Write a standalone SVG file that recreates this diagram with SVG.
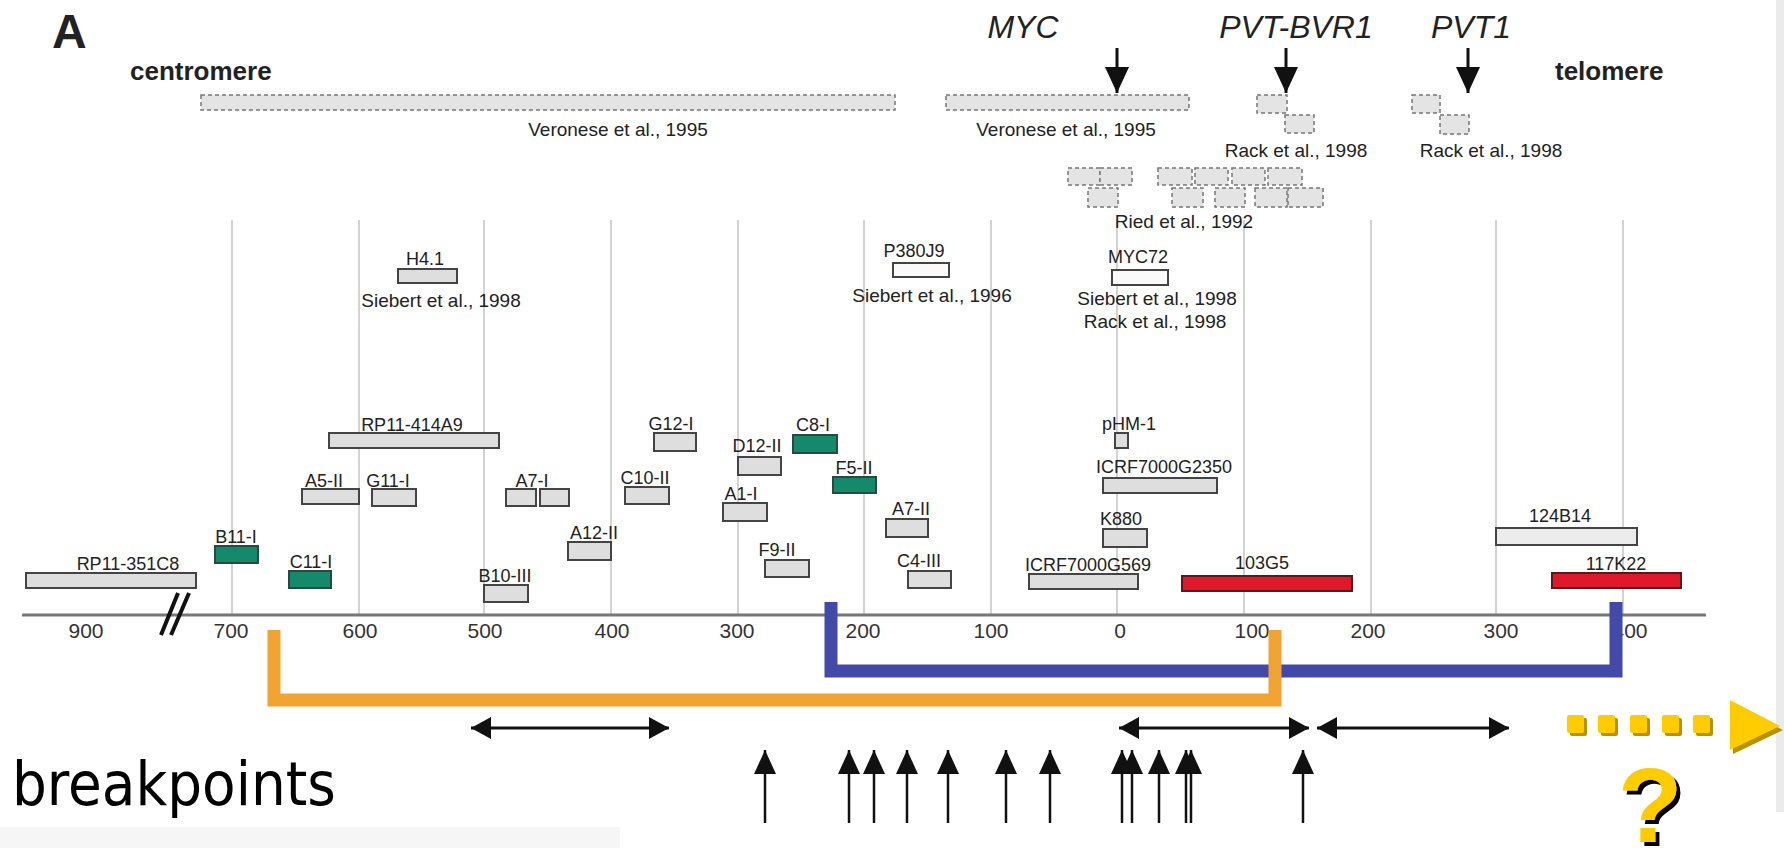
<svg xmlns="http://www.w3.org/2000/svg" width="1784" height="848" viewBox="0 0 1784 848">
<defs>
<style>
text{font-family:"Liberation Sans",Arial,sans-serif;fill:#222}
.cl{font-size:18px;text-anchor:middle}
.ref{font-size:19px;text-anchor:middle}
.tick{font-size:21px;text-anchor:middle;fill:#333}
.hd{font-size:26px;font-weight:bold}
.gene{font-size:32px;font-style:italic;text-anchor:middle}
.g{fill:#dedede;stroke:#444;stroke-width:2}
.w{fill:#fafafa;stroke:#444;stroke-width:2}
.gr{fill:#14896b;stroke:#2a4a40;stroke-width:2}
.rd{fill:#e0182b;stroke:#5a1a1a;stroke-width:2}
.d{fill:#e4e4e4;stroke:#777;stroke-width:1.5;stroke-dasharray:4 3}
.grid{stroke:#c4c4c4;stroke-width:1.5}
.ar{stroke:#111;stroke-width:3;fill:none}
.bp{stroke:#111;stroke-width:2.5;fill:none;marker-end:url(#ahu)}
.dbl{stroke:#111;stroke-width:3;fill:none;marker-start:url(#ahd);marker-end:url(#ahd)}
.ys{fill:#b89200}
.yl{fill:#ffcc00}
</style>
<filter id="qsh" x="-20%" y="-20%" width="150%" height="150%"><feDropShadow dx="4" dy="4" stdDeviation="0" flood-color="#000" flood-opacity="1"/></filter>
<marker id="ahu" viewBox="0 0 24 22" refX="24" refY="11" markerWidth="24" markerHeight="22" markerUnits="userSpaceOnUse" orient="auto"><path d="M0,0 L24,11 L0,22 z" fill="#111"/></marker>
<marker id="ahg" viewBox="0 0 26 24" refX="26" refY="12" markerWidth="26" markerHeight="24" markerUnits="userSpaceOnUse" orient="auto"><path d="M0,0 L26,12 L0,24 z" fill="#111"/></marker>
<marker id="ahd" viewBox="0 0 20 22" refX="20" refY="11" markerWidth="20" markerHeight="22" markerUnits="userSpaceOnUse" orient="auto-start-reverse"><path d="M0,0 L20,11 L0,22 z" fill="#111"/></marker>
</defs>
<rect x="0" y="0" width="1784" height="848" fill="#ffffff"/>
<rect x="1776" y="0" width="8" height="812" fill="#ebebeb"/>
<rect x="0" y="827" width="620" height="21" fill="#f6f6f6"/>

<g id="titles">
<text x="52" y="48" style="font-size:48px;font-weight:bold">A</text>
<text class="hd" x="130" y="80">centromere</text>
<text class="hd" x="1555" y="80">telomere</text>
<text class="gene" x="1023" y="38">MYC</text>
<text class="gene" x="1296" y="38">PVT-BVR1</text>
<text class="gene" x="1471" y="38">PVT1</text>
</g>

<g id="grid">
<line class="grid" x1="232" y1="220" x2="232" y2="615"/>
<line class="grid" x1="359" y1="220" x2="359" y2="615"/>
<line class="grid" x1="484" y1="220" x2="484" y2="615"/>
<line class="grid" x1="611" y1="220" x2="611" y2="615"/>
<line class="grid" x1="738" y1="220" x2="738" y2="615"/>
<line class="grid" x1="864" y1="220" x2="864" y2="615"/>
<line class="grid" x1="991" y1="220" x2="991" y2="615"/>
<line class="grid" x1="1117" y1="220" x2="1117" y2="615"/>
<line class="grid" x1="1244" y1="220" x2="1244" y2="615"/>
<line class="grid" x1="1371" y1="220" x2="1371" y2="615"/>
<line class="grid" x1="1496" y1="220" x2="1496" y2="615"/>
<line class="grid" x1="1623" y1="220" x2="1623" y2="615"/>
</g>

<g id="axis">
<line x1="22" y1="615" x2="1706" y2="615" stroke="#777" stroke-width="3"/>
<line x1="161" y1="635" x2="178" y2="593" stroke="#111" stroke-width="4"/>
<line x1="171" y1="635" x2="189" y2="593" stroke="#111" stroke-width="4"/>
<text class="tick" x="86" y="638">900</text>
<text class="tick" x="231" y="638">700</text>
<text class="tick" x="360" y="638">600</text>
<text class="tick" x="485" y="638">500</text>
<text class="tick" x="612" y="638">400</text>
<text class="tick" x="737" y="638">300</text>
<text class="tick" x="863" y="638">200</text>
<text class="tick" x="991" y="638">100</text>
<text class="tick" x="1120" y="638">0</text>
<text class="tick" x="1252" y="638">100</text>
<text class="tick" x="1368" y="638">200</text>
<text class="tick" x="1501" y="638">300</text>
<text class="tick" x="1630" y="638">400</text>
</g>

<g id="veronese1">
<rect class="d" x="201" y="95" width="694" height="15"/>
<text class="ref" x="618" y="136">Veronese et al., 1995</text>
</g>
<g id="veronese2">
<rect class="d" x="946" y="95" width="243" height="15"/>
<text class="ref" x="1066" y="136">Veronese et al., 1995</text>
</g>
<g id="rack1">
<rect class="d" x="1257" y="95" width="30" height="18"/>
<rect class="d" x="1285" y="115" width="29" height="18"/>
<text class="ref" x="1296" y="157">Rack et al., 1998</text>
</g>
<g id="rack2">
<rect class="d" x="1412" y="95" width="28" height="18"/>
<rect class="d" x="1440" y="115" width="29" height="19"/>
<text class="ref" x="1491" y="157">Rack et al., 1998</text>
</g>
<g id="ried">
<rect class="d" x="1068" y="168" width="32" height="17"/>
<rect class="d" x="1100" y="168" width="32" height="17"/>
<rect class="d" x="1158" y="168" width="34" height="17"/>
<rect class="d" x="1195" y="168" width="33" height="17"/>
<rect class="d" x="1232" y="168" width="33" height="17"/>
<rect class="d" x="1268" y="168" width="34" height="17"/>
<rect class="d" x="1088" y="188" width="30" height="19"/>
<rect class="d" x="1172" y="188" width="31" height="19"/>
<rect class="d" x="1215" y="188" width="30" height="19"/>
<rect class="d" x="1255" y="188" width="32" height="19"/>
<rect class="d" x="1288" y="188" width="35" height="19"/>
<text class="ref" x="1184" y="228">Ried et al., 1992</text>
</g>

<g id="H4.1">
<text class="cl" x="425" y="265">H4.1</text>
<rect class="g" x="398" y="269" width="59" height="14"/>
<text class="ref" x="441" y="307">Siebert et al., 1998</text>
</g>
<g id="P380J9">
<text class="cl" x="914" y="257">P380J9</text>
<rect class="w" x="893" y="263" width="56" height="14"/>
<text class="ref" x="932" y="302">Siebert et al., 1996</text>
</g>
<g id="MYC72">
<text class="cl" x="1138" y="263">MYC72</text>
<rect class="w" x="1112" y="270" width="56" height="15"/>
<text class="ref" x="1157" y="305">Siebert et al., 1998</text>
<text class="ref" x="1155" y="328">Rack et al., 1998</text>
</g>

<g id="RP11-351C8"><rect class="g" x="26" y="573" width="170" height="15"/><text class="cl" x="128" y="570">RP11-351C8</text></g>
<g id="B11-I"><rect class="gr" x="215" y="546" width="43" height="17"/><text class="cl" x="236" y="543">B11-I</text></g>
<g id="C11-I"><rect class="gr" x="289" y="571" width="42" height="17"/><text class="cl" x="311" y="568">C11-I</text></g>
<g id="RP11-414A9"><rect class="g" x="329" y="433" width="170" height="15"/><text class="cl" x="412" y="431">RP11-414A9</text></g>
<g id="A5-II"><rect class="g" x="302" y="489" width="57" height="15"/><text class="cl" x="324" y="487">A5-II</text></g>
<g id="G11-I"><rect class="g" x="372" y="489" width="44" height="17"/><text class="cl" x="388" y="487">G11-I</text></g>
<g id="A7-I"><rect class="g" x="506" y="489" width="30" height="17"/><rect class="g" x="540" y="489" width="29" height="17"/><text class="cl" x="532" y="487">A7-I</text></g>
<g id="B10-III"><rect class="g" x="484" y="585" width="44" height="17"/><text class="cl" x="505" y="582">B10-III</text></g>
<g id="A12-II"><rect class="g" x="568" y="542" width="43" height="18"/><text class="cl" x="594" y="539">A12-II</text></g>
<g id="G12-I"><rect class="g" x="654" y="433" width="42" height="18"/><text class="cl" x="671" y="430">G12-I</text></g>
<g id="C10-II"><rect class="g" x="625" y="487" width="44" height="17"/><text class="cl" x="645" y="484">C10-II</text></g>
<g id="D12-II"><rect class="g" x="738" y="457" width="43" height="18"/><text class="cl" x="757" y="452">D12-II</text></g>
<g id="C8-I"><rect class="gr" x="793" y="435" width="44" height="18"/><text class="cl" x="813" y="431">C8-I</text></g>
<g id="F5-II"><rect class="gr" x="833" y="477" width="43" height="16"/><text class="cl" x="854" y="474">F5-II</text></g>
<g id="A1-I"><rect class="g" x="723" y="503" width="44" height="18"/><text class="cl" x="741" y="500">A1-I</text></g>
<g id="A7-II"><rect class="g" x="886" y="519" width="42" height="18"/><text class="cl" x="911" y="515">A7-II</text></g>
<g id="F9-II"><rect class="g" x="765" y="560" width="44" height="17"/><text class="cl" x="777" y="556">F9-II</text></g>
<g id="C4-III"><rect class="g" x="908" y="571" width="43" height="17"/><text class="cl" x="919" y="567">C4-III</text></g>
<g id="ICRF7000G569"><rect class="g" x="1029" y="574" width="109" height="15"/><text class="cl" x="1088" y="571">ICRF7000G569</text></g>
<g id="pHM-1"><rect class="g" x="1115" y="433" width="13" height="15"/><text class="cl" x="1129" y="430">pHM-1</text></g>
<g id="ICRF7000G2350"><rect class="g" x="1103" y="478" width="114" height="15"/><text class="cl" x="1164" y="473">ICRF7000G2350</text></g>
<g id="K880"><rect class="g" x="1103" y="529" width="44" height="18"/><text class="cl" x="1121" y="525">K880</text></g>
<g id="103G5"><rect class="rd" x="1182" y="576" width="170" height="15"/><text class="cl" x="1262" y="569">103G5</text></g>
<g id="124B14"><rect class="w" x="1496" y="528" width="141" height="17" style="fill:#ececec"/><text class="cl" x="1560" y="522">124B14</text></g>
<g id="117K22"><rect class="rd" x="1552" y="573" width="129" height="15"/><text class="cl" x="1616" y="570">117K22</text></g>

<g id="breakpoints-label">
<text x="12" y="805" style="font-family:'DejaVu Sans Condensed','DejaVu Sans',sans-serif;font-stretch:condensed;font-size:61px;fill:#000">breakpoints</text>
</g>

<g id="question">
<g id="dotted-arrow">
<rect class="ys" x="1570" y="718" width="17" height="18" rx="2"/>
<rect class="yl" x="1567" y="715" width="17" height="18" rx="2"/>
<rect class="ys" x="1601" y="718" width="17" height="18" rx="2"/>
<rect class="yl" x="1598" y="715" width="17" height="18" rx="2"/>
<rect class="ys" x="1633" y="718" width="17" height="18" rx="2"/>
<rect class="yl" x="1630" y="715" width="17" height="18" rx="2"/>
<rect class="ys" x="1665" y="718" width="17" height="18" rx="2"/>
<rect class="yl" x="1662" y="715" width="17" height="18" rx="2"/>
<rect class="ys" x="1696" y="718" width="17" height="18" rx="2"/>
<rect class="yl" x="1693" y="715" width="17" height="18" rx="2"/>
<polygon class="ys" points="1733,704 1783,730 1733,754"/>
<polygon class="yl" points="1730,700 1780,726 1730,750"/>
</g>
<text x="1650" y="842" filter="url(#qsh)" style="font-size:106px;font-weight:bold;text-anchor:middle;fill:#ffcc00">?</text>
</g>

<g id="connectors">
<line class="ar" x1="1117" y1="48" x2="1117" y2="93" marker-end="url(#ahg)"/>
<line class="ar" x1="1286" y1="48" x2="1286" y2="93" marker-end="url(#ahg)"/>
<line class="ar" x1="1468" y1="48" x2="1468" y2="93" marker-end="url(#ahg)"/>
<path d="M831,602 V671 H1616 V602" fill="none" stroke="#4349a8" stroke-width="13"/>
<path d="M274,630 V700 H1275 V630" fill="none" stroke="#f2a432" stroke-width="13"/>
<line class="dbl" x1="471" y1="728" x2="669" y2="728"/>
<line class="dbl" x1="1119" y1="728" x2="1309" y2="728"/>
<line class="dbl" x1="1317" y1="728" x2="1509" y2="728"/>
<line class="bp" x1="765" y1="823" x2="765" y2="750"/>
<line class="bp" x1="849" y1="823" x2="849" y2="750"/>
<line class="bp" x1="874" y1="823" x2="874" y2="750"/>
<line class="bp" x1="907" y1="823" x2="907" y2="750"/>
<line class="bp" x1="948" y1="823" x2="948" y2="750"/>
<line class="bp" x1="1006" y1="823" x2="1006" y2="750"/>
<line class="bp" x1="1050" y1="823" x2="1050" y2="750"/>
<line class="bp" x1="1122" y1="823" x2="1122" y2="750"/>
<line class="bp" x1="1132" y1="823" x2="1132" y2="750"/>
<line class="bp" x1="1159" y1="823" x2="1159" y2="750"/>
<line class="bp" x1="1186" y1="823" x2="1186" y2="750"/>
<line class="bp" x1="1191" y1="823" x2="1191" y2="750"/>
<line class="bp" x1="1303" y1="823" x2="1303" y2="750"/>
</g>
</svg>
